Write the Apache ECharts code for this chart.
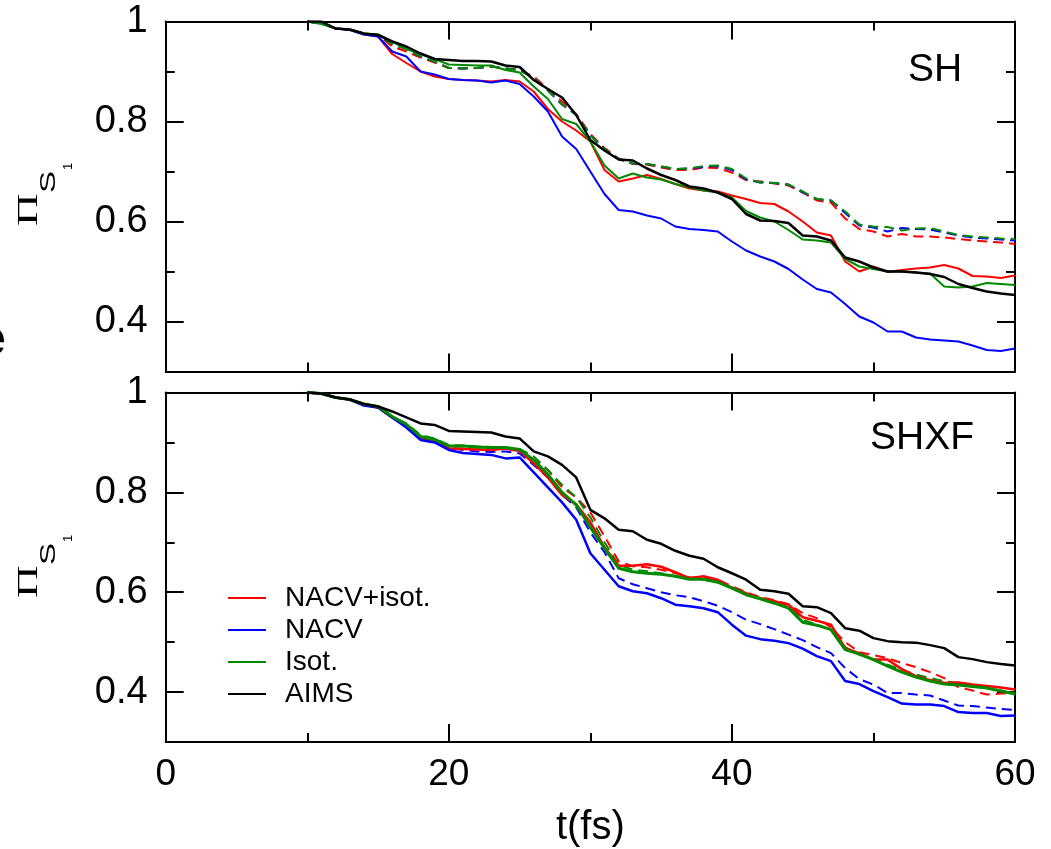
<!DOCTYPE html>
<html><head><meta charset="utf-8">
<script src="https://cdn.jsdelivr.net/npm/echarts@6/dist/echarts.min.js"></script>
<style>html,body{margin:0;padding:0;background:#fff}#c{width:1051px;height:849px}</style>
</head><body><div id="c"></div>
<script>
// time axis (fs)
const T = [10,11,12,13,14,15,16,17,18,19,20,21,22,23,24,25,26,27,28,29,30,31,32,33,34,35,36,37,38,39,40,41,42,43,44,45,46,47,48,49,50,51,52,53,54,55,56,57,58,59,60];

// ---- top panel (SH) ----
const shRed   = [1.0,0.998,0.986,0.984,0.974,0.97,0.935,0.917,0.9,0.89,0.885,0.883,0.882,0.88,0.883,0.88,0.86,0.825,0.8,0.782,0.76,0.703,0.68,0.686,0.693,0.685,0.675,0.666,0.662,0.66,0.652,0.645,0.637,0.635,0.62,0.6,0.578,0.572,0.52,0.5,0.51,0.499,0.503,0.506,0.508,0.513,0.506,0.491,0.49,0.487,0.492];
const shBlue  = [1.0,0.998,0.986,0.983,0.974,0.97,0.94,0.93,0.9,0.894,0.885,0.883,0.882,0.878,0.882,0.875,0.85,0.82,0.77,0.745,0.7,0.655,0.623,0.62,0.612,0.606,0.59,0.585,0.583,0.58,0.56,0.542,0.53,0.52,0.505,0.484,0.465,0.458,0.435,0.41,0.398,0.38,0.38,0.368,0.364,0.362,0.36,0.352,0.343,0.341,0.346];
const shGreen = [1.0,0.995,0.986,0.984,0.976,0.974,0.96,0.945,0.935,0.925,0.914,0.913,0.912,0.912,0.903,0.898,0.87,0.845,0.805,0.795,0.76,0.712,0.686,0.696,0.688,0.684,0.675,0.668,0.662,0.658,0.648,0.621,0.608,0.6,0.583,0.564,0.562,0.558,0.525,0.51,0.505,0.5,0.5,0.498,0.496,0.47,0.468,0.47,0.477,0.475,0.473];
const shAims  = [1.0,1.0,0.986,0.984,0.976,0.973,0.96,0.95,0.936,0.925,0.923,0.921,0.921,0.92,0.912,0.909,0.883,0.865,0.848,0.813,0.763,0.742,0.724,0.722,0.706,0.693,0.683,0.67,0.666,0.658,0.645,0.615,0.602,0.601,0.597,0.572,0.57,0.562,0.528,0.52,0.508,0.5,0.5,0.498,0.495,0.489,0.475,0.467,0.46,0.456,0.453];
const shRedD  = [1.0,0.996,0.986,0.984,0.976,0.973,0.95,0.94,0.928,0.918,0.907,0.906,0.907,0.91,0.906,0.903,0.89,0.865,0.84,0.815,0.775,0.747,0.726,0.715,0.714,0.708,0.703,0.703,0.708,0.707,0.698,0.683,0.68,0.676,0.672,0.658,0.642,0.638,0.606,0.585,0.58,0.57,0.575,0.57,0.57,0.568,0.565,0.562,0.56,0.558,0.555];
const shBlueD = [1.0,0.996,0.986,0.984,0.976,0.973,0.955,0.945,0.93,0.92,0.907,0.906,0.907,0.91,0.906,0.903,0.887,0.862,0.834,0.813,0.772,0.745,0.725,0.716,0.715,0.71,0.705,0.706,0.709,0.711,0.703,0.684,0.678,0.677,0.674,0.658,0.645,0.642,0.617,0.592,0.588,0.58,0.587,0.585,0.584,0.578,0.572,0.568,0.566,0.564,0.562];
const shGreenD= [1.0,0.996,0.986,0.984,0.976,0.973,0.955,0.945,0.93,0.92,0.907,0.906,0.907,0.91,0.906,0.903,0.887,0.862,0.834,0.813,0.772,0.745,0.725,0.716,0.715,0.71,0.705,0.706,0.711,0.712,0.705,0.686,0.678,0.677,0.674,0.66,0.645,0.642,0.62,0.594,0.59,0.589,0.582,0.586,0.587,0.58,0.573,0.57,0.568,0.566,0.565];

// ---- bottom panel (SHXF) ----
const xfRed   = [1.0,0.998,0.99,0.986,0.976,0.97,0.95,0.932,0.91,0.902,0.888,0.887,0.886,0.885,0.888,0.883,0.858,0.83,0.795,0.776,0.74,0.69,0.653,0.653,0.656,0.651,0.64,0.628,0.632,0.625,0.609,0.598,0.588,0.582,0.575,0.55,0.543,0.535,0.488,0.478,0.465,0.465,0.446,0.432,0.424,0.418,0.419,0.415,0.412,0.409,0.405];
const xfBlue  = [1.0,0.998,0.99,0.986,0.974,0.97,0.95,0.93,0.905,0.9,0.885,0.879,0.877,0.875,0.868,0.87,0.84,0.81,0.78,0.745,0.678,0.645,0.612,0.602,0.598,0.588,0.575,0.572,0.568,0.56,0.535,0.513,0.506,0.503,0.498,0.487,0.472,0.462,0.422,0.416,0.402,0.39,0.377,0.375,0.375,0.372,0.36,0.358,0.358,0.352,0.353];
const xfGreen = [1.0,0.998,0.99,0.986,0.977,0.972,0.952,0.936,0.912,0.906,0.893,0.893,0.891,0.89,0.89,0.886,0.865,0.836,0.8,0.775,0.73,0.688,0.648,0.641,0.638,0.636,0.632,0.626,0.626,0.62,0.608,0.595,0.587,0.578,0.568,0.54,0.534,0.525,0.485,0.476,0.465,0.452,0.44,0.43,0.422,0.416,0.414,0.411,0.408,0.402,0.396];
const xfAims  = [1.0,0.998,0.99,0.986,0.977,0.972,0.962,0.95,0.938,0.935,0.923,0.922,0.921,0.92,0.912,0.908,0.882,0.872,0.855,0.83,0.765,0.748,0.725,0.722,0.705,0.697,0.683,0.673,0.667,0.65,0.638,0.625,0.605,0.602,0.597,0.572,0.57,0.558,0.528,0.523,0.508,0.502,0.5,0.499,0.494,0.488,0.47,0.466,0.46,0.456,0.453];
const xfRedD  = [1.0,0.998,0.99,0.986,0.975,0.97,0.95,0.935,0.912,0.904,0.892,0.892,0.89,0.888,0.887,0.885,0.865,0.845,0.81,0.79,0.76,0.712,0.662,0.652,0.65,0.645,0.638,0.63,0.628,0.625,0.612,0.6,0.59,0.584,0.576,0.558,0.548,0.53,0.5,0.48,0.474,0.468,0.458,0.45,0.44,0.428,0.41,0.403,0.395,0.397,0.398];
const xfBlueD = [1.0,0.998,0.99,0.986,0.975,0.97,0.95,0.935,0.91,0.903,0.89,0.885,0.882,0.881,0.882,0.878,0.855,0.83,0.795,0.77,0.72,0.68,0.628,0.616,0.608,0.6,0.594,0.59,0.582,0.573,0.56,0.545,0.536,0.526,0.515,0.504,0.49,0.478,0.448,0.426,0.415,0.398,0.398,0.395,0.393,0.383,0.373,0.372,0.369,0.366,0.364];
const xfGreenD= [1.0,0.998,0.99,0.986,0.977,0.972,0.952,0.938,0.915,0.908,0.895,0.894,0.892,0.891,0.89,0.887,0.872,0.845,0.815,0.79,0.75,0.7,0.655,0.645,0.642,0.638,0.632,0.627,0.625,0.62,0.61,0.598,0.588,0.58,0.57,0.545,0.535,0.525,0.49,0.475,0.466,0.455,0.445,0.435,0.428,0.422,0.418,0.412,0.408,0.403,0.398];

// tick labels
const X_MAJOR = [0, 20, 40, 60];
const X_MINOR = [10, 30, 50];
const Y_MAJOR = [0.4, 0.6, 0.8, 1];
const Y_MINOR = [0.5, 0.7, 0.9];
const NAMES = ['NACV+isot.', 'NACV', 'Isot.', 'AIMS'];
const PANEL_LABELS = ['SH', 'SHXF'];

const RED = '#ff0000', BLUE = '#0000ff', GREEN = '#008a00', BLACK = '#000000';
const SANS = '"Liberation Sans", Arial, Helvetica, sans-serif';

const chart = echarts.init(document.getElementById('c'), null, {renderer: 'canvas'});

const grids = [
  {left: 165.7, top: 21.5, width: 849.3, height: 350},
  {left: 165.7, top: 392.5, width: 849.3, height: 350.5}
];

const lineSt = {color: '#000', width: 2};
function xAx(g, pos, vals, len, main) {
  return {
    gridIndex: g, type: 'value', min: 0, max: 60, position: pos,
    axisLine: {show: main, onZero: false, lineStyle: lineSt},
    axisTick: {show: true, inside: true, length: len, customValues: vals, lineStyle: lineSt},
    axisLabel: {show: main && g === 1 && pos === 'bottom', customValues: X_MAJOR, color: '#000',
      fontFamily: SANS, fontSize: 37, margin: 14},
    splitLine: {show: false},
    name: (main && g === 1 && pos === 'bottom') ? 't(fs)' : '',
    nameLocation: 'middle', nameGap: 66,
    nameTextStyle: {color: '#000', fontFamily: SANS, fontSize: 40}
  };
}
function yAx(g, pos, vals, len, main) {
  return {
    gridIndex: g, type: 'value', min: 0.3, max: 1, position: pos,
    axisLine: {show: main, onZero: false, lineStyle: lineSt},
    axisTick: {show: true, inside: true, length: len, customValues: vals, lineStyle: lineSt},
    axisLabel: {show: main && pos === 'left', customValues: Y_MAJOR, color: '#000',
      fontFamily: SANS, fontSize: 38, margin: 18,
      formatter: v => (v === 1 ? '1' : String(v))},
    splitLine: {show: false}
  };
}
const xAxes = [], yAxes = [];
for (let g = 0; g < 2; g++) {
  xAxes.push(xAx(g, 'bottom', X_MAJOR, 18, true), xAx(g, 'bottom', X_MINOR, 9, false),
             xAx(g, 'top', X_MAJOR, 18, true), xAx(g, 'top', X_MINOR, 9, false));
  yAxes.push(yAx(g, 'left', Y_MAJOR, 18, true), yAx(g, 'left', Y_MINOR, 9, false),
             yAx(g, 'right', Y_MAJOR, 18, true), yAx(g, 'right', Y_MINOR, 9, false));
}

function ser(name, vals, color, g, dashed, width) {
  return {
    name, type: 'line', xAxisIndex: g * 4, yAxisIndex: g * 4,
    data: T.map((t, i) => [t, vals[i]]),
    showSymbol: false, symbol: 'none', animation: false,
    itemStyle: {color},
    lineStyle: {color, width: width || 2, type: dashed ? [10, 6] : 'solid'},
    z: 3
  };
}
const series = [
  ser('NACV+isot. (d)', shRedD, RED, 0, true),
  ser('NACV (d)', shBlueD, BLUE, 0, true),
  ser('Isot. (d)', shGreenD, GREEN, 0, true),
  ser(NAMES[0], shRed, RED, 0, false),
  ser(NAMES[1], shBlue, BLUE, 0, false),
  ser(NAMES[2], shGreen, GREEN, 0, false),
  ser(NAMES[3], shAims, BLACK, 0, false, 2.5),
  ser('NACV+isot. (d)', xfRedD, RED, 1, true),
  ser('NACV (d)', xfBlueD, BLUE, 1, true),
  ser('Isot. (d)', xfGreenD, GREEN, 1, true),
  ser(NAMES[0], xfRed, RED, 1, false, 2.5),
  ser(NAMES[1], xfBlue, BLUE, 1, false, 2.5),
  ser(NAMES[2], xfGreen, GREEN, 1, false, 3),
  ser(NAMES[3], xfAims, BLACK, 1, false, 2.5)
];

function yName(cx, yStart) {
  return [
    {type: 'text', x: cx, y: yStart, rotation: Math.PI / 2, scaleX: 1.5,
     style: {text: 'Π', fill: '#000', font: '30px "Liberation Serif", serif', textAlign: 'left', textVerticalAlign: 'middle'}},
    {type: 'text', x: cx + 19.5, y: yStart - 33, rotation: Math.PI / 2, scaleX: 1.5,
     style: {text: 'S', fill: '#000', font: '22px ' + SANS, textAlign: 'left', textVerticalAlign: 'middle'}},
    {type: 'text', x: cx + 39, y: yStart - 56, rotation: Math.PI / 2,
     style: {text: '1', fill: '#000', font: '13px ' + SANS, textAlign: 'left', textVerticalAlign: 'middle'}}
  ];
}

const graphic = [].concat(
  yName(29.5, 226),
  yName(29.5, 598),
  [
    {type: 'text', x: 908, y: 70, style: {text: PANEL_LABELS[0], fill: '#000', font: '39px ' + SANS, textAlign: 'left', textVerticalAlign: 'middle'}},
    {type: 'text', x: 870, y: 438.5, style: {text: PANEL_LABELS[1], fill: '#000', font: '39px ' + SANS, textAlign: 'left', textVerticalAlign: 'middle'}},
    {type: 'text', x: -22, y: 341, style: {text: 'e', fill: '#000', font: 'bold 50px ' + SANS, textAlign: 'left', textVerticalAlign: 'middle'}}
  ]
);

chart.setOption({
  backgroundColor: '#fff',
  animation: false,
  grid: grids,
  xAxis: xAxes,
  yAxis: yAxes,
  legend: {
    data: NAMES.map(n => ({name: n, icon: 'rect'})),
    orient: 'vertical', left: 223, top: 577,
    itemWidth: 38, itemHeight: 2, itemGap: 0,
    textStyle: {color: '#000', fontFamily: SANS, fontSize: 28, lineHeight: 32, padding: [0, 0, 0, 14]}
  },
  series,
  graphic
});
</script>
</body></html>
